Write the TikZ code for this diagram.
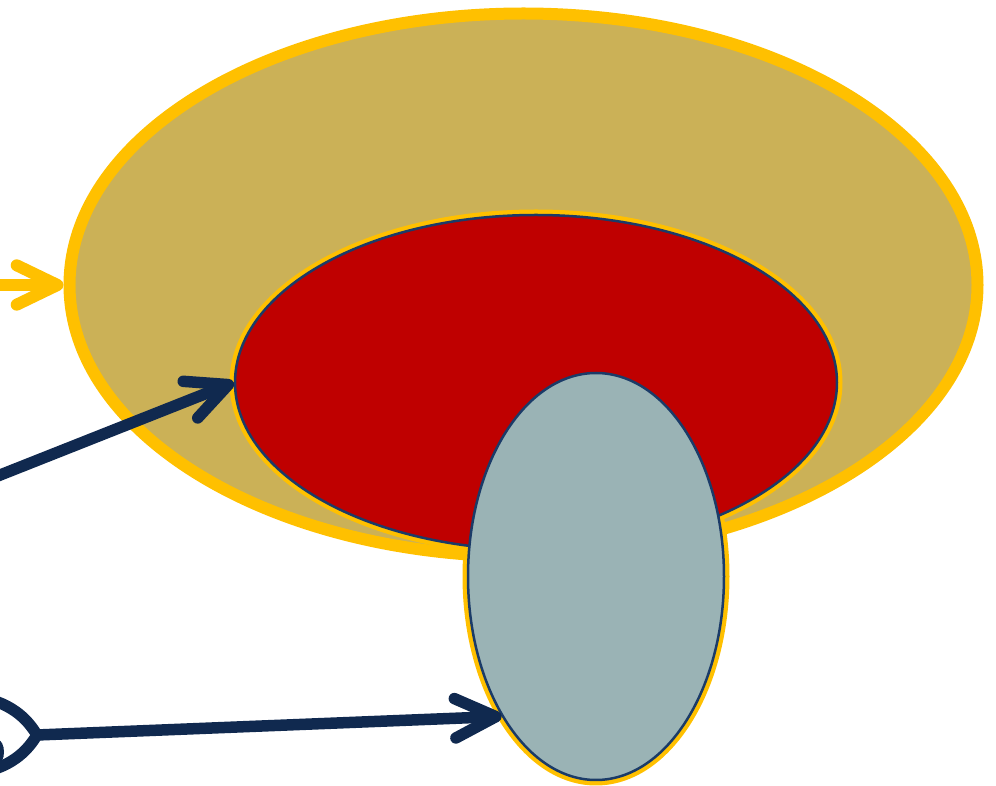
\documentclass[tikz,border=0pt]{standalone}
\usepackage{tikz}
\usetikzlibrary{arrows.meta,shapes.geometric}
\definecolor{gold}{HTML}{FFC000}
\definecolor{sand}{HTML}{CBB157}
\definecolor{crimson}{HTML}{BF0000}
\definecolor{slate}{HTML}{9AB3B5}
\definecolor{navy}{HTML}{10294F}
\definecolor{rim}{HTML}{1B3B68}
\newlength\px
\setlength\px{0.025cm}
\tikzset{
  every picture/.style={line join=round, line cap=round, x=0.025cm, y=-0.025cm},
  blob/.style={ellipse, inner sep=0pt},
  rimmed/.style={blob, draw=rim, line width=2.5\px},
  chevron/.style={-{Straight Barb[length=29pt,width=28pt,round]}},
  feedline/.style={chevron, draw=gold, line width=12\px},
  pointer/.style={chevron, draw=navy, line width=11.5\px},
}
\begin{document}
\begin{tikzpicture}
\useasboundingbox (0,0) rectangle (996,786);
\node[blob, draw=gold, fill=sand, line width=12\px, minimum width=908\px, minimum height=543\px] (field) at (523.5,285) {};
\coordinate (corec) at (536,382.5);
\coordinate (stemc) at (596,576.5);
\fill[gold] (corec) ellipse [x radius=306.5, y radius=173];
\fill[gold] (stemc) ellipse [x radius=133.5, y radius=209];
\node[rimmed, fill=crimson, minimum width=602\px, minimum height=335\px] (core) at (corec) {};
\node[rimmed, fill=slate, minimum width=256\px, minimum height=407\px] (stem) at (stemc) {};
\coordinate (feed) at (-20,285);
\coordinate (src) at (-20,483);
\coordinate (tip) at (37,735);
\draw[feedline] (feed) -- (field.west);
\draw[pointer] (src) -- (core.west);
\draw[navy, line width=11.5\px] (-20,697) .. controls (15,704) and (29,722) .. (tip) .. controls (29,748) and (15,766) .. (-20,773);
\fill[navy] (-2,752) ellipse [x radius=6, y radius=12];
\draw[pointer] (tip) -- (stem.236.6);
\end{tikzpicture}
\end{document}
